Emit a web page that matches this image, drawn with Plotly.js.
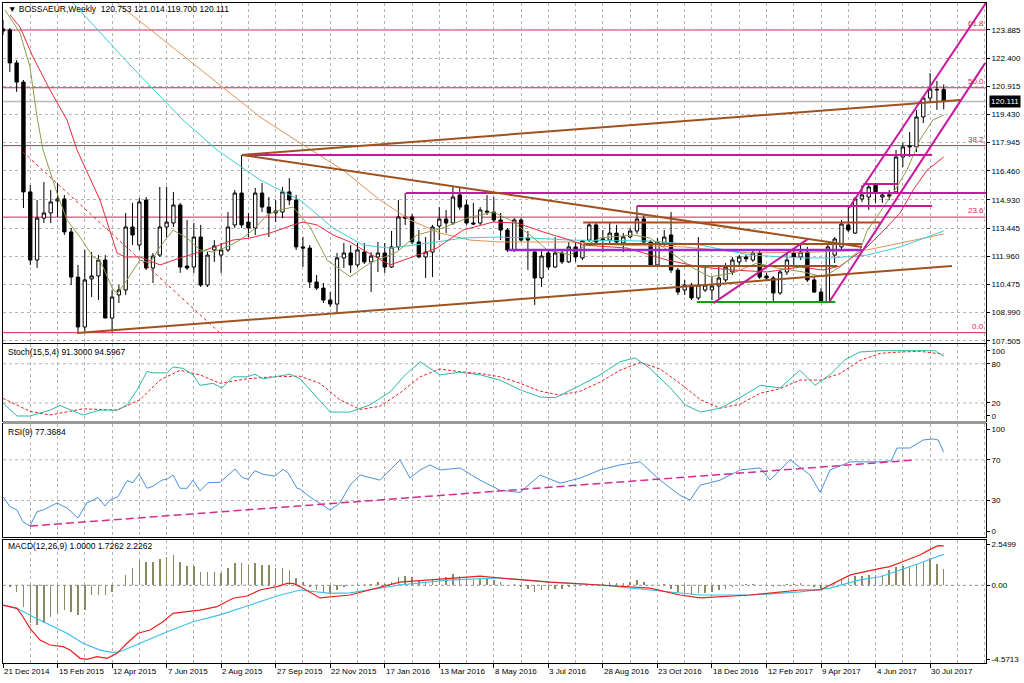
<!DOCTYPE html>
<html><head><meta charset="utf-8">
<script src="https://cdn.plot.ly/plotly-3.0.1.min.js"></script>
<style>html,body{margin:0;padding:0;background:#fff}#chart{width:1024px;height:683px}</style>
</head><body><div id="chart"></div>
<script>
// ---- data (weekly candles from 21 Dec 2014) ----
const candleOpen=[123.94,123.89,122.15,121.14,115.35,111.76,113.97,114.24,114.87,114.98,113.24,110.86,108.23,110.76,110.92,111.76,108.70,109.92,110.18,113.50,112.55,114.92,111.34,112.02,113.50,113.71,114.66,111.44,111.39,112.97,110.44,112.29,112.02,112.29,113.61,115.29,113.76,113.45,115.29,114.55,114.24,114.29,115.35,114.92,112.45,112.39,110.60,110.28,109.65,109.44,111.87,112.13,111.50,112.18,111.66,111.92,112.13,111.39,112.45,114.03,114.03,112.71,111.92,112.18,113.55,113.92,113.71,115.19,114.66,113.71,113.71,114.34,114.29,113.87,113.34,112.29,113.87,112.92,112.18,110.81,112.13,111.39,112.13,111.66,112.45,111.87,112.81,113.61,112.81,112.81,113.18,112.66,112.98,113.29,113.92,112.71,111.50,112.66,113.08,111.23,110.18,110.44,109.76,110.18,110.18,110.39,110.71,111.13,111.66,111.92,111.76,112.13,110.92,110.81,110.02,111.13,112.13,111.92,112.18,110.71,110.07,109.55,112.02,112.45,113.61,113.18,114.98,115.08,115.71,115.08,115.13,115.35,117.19,117.72,117.72,119.30,120.30,120.72,120.753];
const candleHigh=[124.41,123.99,122.30,121.25,115.71,114.92,115.87,115.45,115.82,115.19,113.45,111.50,112.29,112.18,112.02,112.02,110.18,110.44,114.24,114.77,115.03,115.08,112.13,115.61,115.61,115.35,114.77,113.87,113.71,113.61,112.18,112.81,112.66,114.29,115.45,117.30,114.24,115.56,115.82,115.08,114.92,115.61,116.08,115.19,112.97,112.55,110.97,110.55,110.07,112.13,112.66,112.55,112.66,112.66,112.18,112.71,112.66,113.29,114.92,115.29,114.19,113.34,112.97,113.61,114.55,114.40,115.61,115.56,114.92,114.77,114.55,115.19,115.08,114.24,113.45,113.97,113.97,113.29,112.29,112.29,112.29,112.97,112.29,112.71,112.71,112.81,113.71,113.71,113.34,113.71,113.61,113.18,113.45,114.61,114.13,112.81,112.92,113.34,114.29,111.34,110.71,110.55,112.97,111.39,110.86,111.39,111.60,111.92,112.02,112.02,112.24,112.24,111.08,110.92,111.23,112.18,112.39,112.55,112.45,110.86,110.28,112.55,112.97,113.87,114.55,115.08,115.71,115.82,115.82,115.35,115.45,117.56,117.93,118.51,119.67,120.41,121.62,121.20,121.014];
const candleLow=[123.62,121.67,120.62,114.50,111.50,111.34,113.71,113.71,114.03,113.08,110.44,107.91,107.97,109.81,109.65,108.70,107.97,109.49,109.92,112.55,112.29,111.23,110.55,111.92,112.97,113.50,111.08,111.23,111.08,110.34,110.34,111.66,111.08,112.18,113.45,113.45,112.97,113.08,114.29,112.97,113.76,113.97,114.66,112.29,111.39,110.28,110.18,109.49,109.28,108.97,111.34,111.08,111.39,111.55,110.07,111.13,111.08,111.34,112.29,113.61,112.60,111.87,110.81,110.86,112.81,113.18,113.61,114.40,113.61,113.61,113.61,114.13,113.76,112.81,112.18,112.18,112.71,111.23,109.39,110.34,111.23,111.34,111.55,111.60,111.66,111.76,112.71,112.55,112.18,112.55,112.60,112.18,112.92,113.13,112.55,111.39,111.39,112.50,111.08,109.92,109.92,109.65,109.65,110.07,109.65,109.65,110.60,110.97,111.50,111.66,111.66,110.76,110.65,109.49,109.92,110.97,111.39,111.76,110.60,110.02,109.49,109.49,111.60,112.29,113.24,113.13,114.82,114.40,114.77,114.77,114.92,115.29,116.66,117.19,117.45,118.98,120.04,119.67,119.700];
const candleClose=[123.83,122.15,121.14,115.35,111.76,113.97,114.24,114.82,114.98,113.24,110.86,108.23,110.71,110.92,111.76,108.70,109.81,110.18,113.50,113.08,114.82,111.34,111.97,113.50,113.76,114.66,111.39,111.34,112.97,110.44,112.02,112.50,112.29,113.50,115.29,113.61,113.45,115.29,114.55,114.24,114.34,115.35,114.92,112.45,112.39,110.60,110.28,109.65,109.44,111.87,112.13,111.50,112.29,111.66,111.97,112.13,111.39,112.45,114.03,113.97,112.71,111.92,112.18,113.50,113.92,113.71,115.08,114.55,113.71,113.66,114.40,114.29,113.87,113.34,112.29,113.87,112.81,112.81,110.81,111.97,111.39,112.13,111.66,112.45,111.92,112.77,113.61,112.71,112.87,113.18,112.71,112.98,113.29,113.92,112.71,111.50,112.71,112.97,111.23,110.07,110.44,109.76,110.44,110.44,110.39,110.81,111.39,111.76,111.92,111.82,112.13,110.86,110.81,110.02,111.13,111.76,111.92,112.18,110.71,110.07,109.55,112.45,112.87,113.66,113.34,114.98,115.19,115.61,115.29,115.19,115.19,117.19,117.72,117.77,119.30,120.30,120.77,120.75,120.111];

// moving averages (sampled along the lines)
const maFastIdx=[0.29,2.49,3.96,4.99,5.87,7.92,9.39,11.3,13.2,14.23,16.14,16.87,18.19,20.1,21.57,23.03,24.94,27.0,28.9,30.81,32.86,34.77,36.68,38.73,40.64,42.55,45.04,47.54,50.91,53.84,57.8,60.74,64.55,68.07,71.89,74.38,77.32,79.81,83.19,85.09,87.59,92.43,94.92,98.88,101.23,103.73,107.1,110.62,113.56,117.37,120.3,122.8,125.73,126.76,130.57,132.6,134.5,136.4,138];
const maFastVal=[124.94,123.73,121.93,119.30,117.56,115.29,113.87,112.97,111.92,111.76,110.18,110.02,110.71,111.76,111.60,112.45,113.34,112.92,112.29,112.18,112.45,112.81,113.34,114.13,114.40,114.55,113.50,111.76,110.87,111.60,112.18,113.08,113.45,113.97,114.29,113.87,113.08,112.29,112.03,112.45,112.92,113.08,112.92,111.92,111.34,110.87,111.08,111.60,111.34,111.13,110.87,111.39,112.30,113.30,115.29,116.50,118.09,119.14,119.40];
const maMidIdx=[1.03,2.49,4.40,6.90,9.39,10.86,14.23,16.73,17.9,20.1,23.03,26.41,28.9,33.74,36.24,39.17,42.55,44.01,46.07,48.42,50.91,52.82,56.78,60.74,63.67,67.49,71.89,75.41,79.23,83.19,85.09,91.55,97.42,102.26,107.1,112.09,116.93,120.3,122.8,126.76,129.69,131.6,133.51,135.56,138];
const maMidVal=[124.68,124.04,122.46,120.72,119.14,117.56,114.92,112.13,111.92,111.92,111.50,111.92,112.18,112.81,112.92,113.18,113.61,113.76,113.61,113.08,112.71,112.29,111.50,112.02,112.39,113.34,113.76,113.71,113.24,112.81,112.55,112.39,111.76,111.39,111.23,111.13,111.39,111.23,111.44,112.45,113.50,114.24,115.45,116.50,117.19];
const maSlowIdx=[0,10.27,18.63,26.41,31.40,37.71,43.57,48.42,52.82,56.78,62.65,67.49,72.48,77.32,83.19,94.92,102.26,109.59,116.93,121.77,126.76,131.6,138];
const maSlowVal=[129.21,125.31,122.04,119.14,117.56,115.98,114.92,113.45,112.55,112.39,112.66,112.92,112.97,112.92,112.81,112.76,112.55,112.02,111.87,111.87,112.02,112.45,113.29];
const maLongIdx=[0,16.73,25.97,37.71,43.57,49.88,55.31,59.71,64.11,68.51,72.92,83.19,90.08,99.77,109.59,119.42,126.76,131.6,138];
const maLongVal=[130.10,125.31,122.67,119.30,117.93,116.50,114.92,113.87,113.18,112.81,112.71,112.71,112.55,112.45,112.13,112.18,112.29,112.66,113.13];

// indicators
const stochMainIdx=[0,2.05,3.96,6.9,8.36,11.74,14.23,16.73,18.19,19.66,21.13,22.0,24.06,24.94,26.41,27.88,28.9,30.81,32.13,33.74,35.8,36.97,38.15,40.2,42.1,43.57,48,50.9,53.8,56.8,59,61.2,64.1,67,70,72.9,75.9,78.8,81,84.7,87.6,90.5,92.7,94.9,97.9,100.1,102.3,105.2,108.1,111.1,114,116.9,119.1,121.3,123.5,125.7,128.7,131.6,134.5,136.7,138];
const stochMainVal=[20,0,0,9,16,1.5,9,9,17,40,68,66,66,75,73,63,47,50,43,60,60,64,57,61,64,57,6,6,17,37,63,83,63,67,63,55,40,29,28,47,63,83,89,73,43,17,6,12,28,47,43,70,47,63,86,98,100,100,100,100,91.3];
const stochSigIdx=[0,3.96,6.9,11.74,16.73,20.1,23.03,25.97,28.9,31.84,35.8,39.6,43.57,46.5,49.4,52.4,55.3,58.2,61.2,64.1,67,70,72.9,75.9,78.8,81.7,84.7,87.6,90.5,93.5,96.4,99.3,102.3,105.2,108.1,111.1,114,116.9,119.9,122.8,125.7,128.7,131.6,134.5,138];
const stochSigVal=[27,7,1.5,11,9,25,55,70,63,50,57,60,61,50,25,10,15,35,60,72,68,65,60,50,38,32,38,52,70,82,72,50,25,12,18,35,42,55,55,65,85,96,98,99,94.5967];
const rsiIdx=[0,1.03,2.05,2.93,3.96,4.99,5.87,7.92,9.39,11.0,12.32,12.76,13.94,14.96,15.7,16.87,18.19,19.07,19.95,21.13,22.0,23.33,24.06,24.94,25.97,27.0,27.88,28.9,30.08,31.84,34.04,35.06,35.94,36.97,38.15,39.9,41.08,41.81,43.13,43.57,45.04,47.98,49.44,50.91,52.38,55.31,56.78,58.25,59.71,61.18,62.65,64.11,67.05,69.98,72.92,75.85,78.79,81.72,84.65,87.59,90.52,93.46,96.39,99.33,100.8,102.26,105.2,108.13,111.06,112.53,115.46,118.4,119.87,121.33,124.27,128.67,130.28,131.16,133.05,134.98,136.44,137.18,138];
const rsiVal=[33.7,24,20.6,9,5,19,20.6,27.5,22.6,12.8,27.8,28.8,33,24.6,30.5,33.7,49.5,47.5,56,42,44,50,51,55,42,42,50,39.6,47.5,47.9,61,52.8,50.8,59.3,55.7,54,60.7,57.3,42,41.3,33.4,20.6,27.5,45.2,55,50,60,69.8,52,60,65,60,62,50,40,38,55,47,52,60,65,68,50,35,30.5,45,50,60,62,50,70,55,38,60,68,68,69,81.6,81.6,89.5,90.5,89.5,77.3684];
const macdHist=[0,-0.1,-0.39,-1.32,-2.35,-2.45,-2.35,-1.94,-1.69,-1.53,-1.63,-1.83,-1.53,-0.6,-0.6,-0.6,-0.39,0,0.64,1.05,1.56,1.46,1.46,1.6,1.77,1.87,1.46,1.19,1.19,0.84,0.84,0.84,0.74,1.05,1.36,1.36,1.26,1.36,1.26,1.26,1.05,1.05,0.94,0.43,0.2,-0.1,-0.3,-0.4,-0.5,-0.3,-0.1,0,0.1,0.1,0.1,0.2,0.1,0.2,0.5,0.6,0.5,0.3,0.2,0.4,0.5,0.5,0.7,0.6,0.5,0.4,0.4,0.4,0.3,0.2,0,0.1,-0.1,-0.2,-0.4,-0.3,-0.3,-0.2,-0.2,-0.1,-0.1,0,0.1,0.1,0.1,0.2,0.15,0.15,0.2,0.3,0.2,0,0,0.05,-0.2,-0.4,-0.5,-0.6,-0.5,-0.45,-0.4,-0.3,-0.2,-0.1,0,0.05,0.1,0,-0.05,-0.1,-0.05,0.05,0.1,0.15,0,-0.1,-0.2,0,0.2,0.35,0.4,0.55,0.6,0.65,0.62,0.64,0.94,1.1,1.2,1.1,1.3,1.45,1.67,1.3,1.0];
const macdMainIdx=[0,2.05,2.93,3.96,5.43,6.9,8.8,9.83,11.3,12.32,13.79,15.26,16.73,18.19,19.81,21.57,23.47,24.94,27.0,28.9,31.4,33.74,35.8,37.7,40.2,41.67,42.55,43.57,46.5,50.9,58.2,65.6,70.0,72.9,80.25,87.6,94.9,99.3,102.3,109.6,116.9,119.9,124.3,128.7,130.1,132.6,134.5,136.3,137.2,138];
const macdMainVal=[-1.22,-1.42,-1.94,-2.66,-3.38,-3.69,-3.79,-4.0,-4.51,-4.57,-4.41,-4.51,-4.2,-3.58,-2.96,-2.76,-2.25,-1.73,-1.63,-1.53,-1.32,-0.8,-0.66,-0.29,-0.08,0.12,0.12,-0.08,-0.78,-0.6,0.2,0.45,0.57,0.45,0.2,0.02,-0.17,-0.6,-0.78,-0.6,-0.29,-0.29,0.64,1.05,1.15,1.56,1.87,2.28,2.45,2.43];
const macdSigIdx=[0,2.05,4.4,6.9,9.39,11.74,14.23,16.14,17.17,20.1,24.06,27.88,31.84,36.24,40.2,43.57,48,50.9,58.2,65.6,72.9,80.25,87.6,94.9,102.3,109.6,116.9,121.3,125.7,128.7,131.6,134.5,136.4,138];
const macdSigVal=[-1.22,-1.42,-1.94,-2.45,-2.96,-3.58,-4.0,-4.16,-4.1,-3.58,-2.87,-2.25,-1.83,-1.22,-0.66,-0.29,-0.5,-0.47,0.02,0.33,0.45,0.2,0.02,-0.29,-0.6,-0.6,-0.41,-0.17,0.33,0.53,0.94,1.36,1.67,1.91];

// chart objects (levels and trend lines, in week-index / price units)
const fibLevels=[107.93,114.02,117.79,120.84,123.885];
const fibLabels=['0.0','23.6','38.2','50.0','61.8'];
const magentaLevel=[117.30,115.29,114.61,115.77];
const magentaFrom=[35.06,59.1,93.0,126.2];
const magentaTo=[136.3,144.2,136.3,131.2];
const purpleLevel=[112.29]; const purpleFrom=[74.1]; const purpleTo=[126.0];
const greenLevel=[109.55]; const greenFrom=[101.8]; const greenTo=[122.1];
const brownX0=[35.06,35.06,10.86,85.1,85.4,84.2];
const brownY0=[117.30,117.30,107.91,113.74,112.60,111.44];
const brownX1=[140.4,126.0,139.2,128.7,126.0,122.4];
const brownY1=[120.19,112.45,111.44,113.74,112.60,111.44];
const chanX0=[104.2,121.2,124.1], chanY0=[109.49,109.55,114.50];
const chanX1=[118.1,144.1,144.2], chanY1=[112.87,122.15,125.31];
const redDashX=[2.93,31.84], redDashY=[117.45,107.91];
const rsiTrendX=[3.96,133.8], rsiTrendY=[4.9,69.8];

const priceTicks=[107.505,108.990,110.475,111.960,113.445,114.930,116.460,117.945,119.430,120.915,122.400,123.885];
const xTickIdx=[0,8,16,24,32,40,48,56,64,72,80,88,96,104,112,120,128,136];
const xTickLabels=['21 Dec 2014','15 Feb 2015','12 Apr 2015','7 Jun 2015','2 Aug 2015','27 Sep 2015','22 Nov 2015','17 Jan 2016','13 Mar 2016','8 May 2016','3 Jul 2016','28 Aug 2016','23 Oct 2016','18 Dec 2016','12 Feb 2017','9 Apr 2017','4 Jun 2017','30 Jul 2017'];

// ---- build ----
const N=candleOpen.length;
const weekIdx=candleOpen.map((_,i)=>i);
const last=N-1;
const FF='"Liberation Sans", Arial, sans-serif';
const FONT={family:FF,size:8,color:'#000'};
const GRID='#B4B4B4';
const xRange=[0,144.2];
const gridIdx=[]; for(let g=0; g<=144; g+=4) gridIdx.push(g);

function xAx(anchor,bottom){
  return {domain:[0,1],anchor:anchor,range:xRange,showline:true,mirror:true,linecolor:'#000',linewidth:1,
    zeroline:false,tickmode:'array',tickvals:xTickIdx,ticktext:xTickIdx.map(()=>''),
    ticks:bottom?'outside':'',ticklen:4,tickcolor:'#000',showgrid:true,gridcolor:GRID,griddash:'3px,3px',
    minor:{tickmode:'array',tickvals:gridIdx,showgrid:true,gridcolor:GRID,griddash:'3px,3px',ticks:''},
    showticklabels:false,rangeslider:{visible:false},fixedrange:true};
}
function yAx(anchor,domain,range,vals,texts,grid){
  return {domain:domain,anchor:anchor,range:range,side:'right',showline:true,mirror:true,linecolor:'#000',linewidth:1,
    zeroline:false,tickmode:'array',tickvals:vals,ticktext:texts,ticks:'outside',ticklen:3,tickcolor:'#000',
    tickfont:FONT,showgrid:grid,gridcolor:GRID,griddash:'3px,3px',fixedrange:true};
}

const traces=[
  {type:'scatter',mode:'lines',x:maLongIdx,y:maLongVal,line:{color:'#E0915A',width:1},xaxis:'x',yaxis:'y',hoverinfo:'skip'},
  {type:'scatter',mode:'lines',x:maSlowIdx,y:maSlowVal,line:{color:'#3CCFD2',width:1},xaxis:'x',yaxis:'y',hoverinfo:'skip'},
  {type:'scatter',mode:'lines',x:maMidIdx,y:maMidVal,line:{color:'#E8283C',width:1},xaxis:'x',yaxis:'y',hoverinfo:'skip'},
  {type:'scatter',mode:'lines',x:maFastIdx,y:maFastVal,line:{color:'#8E9C4A',width:1},xaxis:'x',yaxis:'y',hoverinfo:'skip'},
  {type:'candlestick',x:weekIdx,open:candleOpen,high:candleHigh,low:candleLow,close:candleClose,xaxis:'x',yaxis:'y',
    increasing:{line:{color:'#000',width:1},fillcolor:'#FFFFFF'},decreasing:{line:{color:'#000',width:1},fillcolor:'#000000'},
    whiskerwidth:0,hoverinfo:'skip'},
  {type:'scatter',mode:'lines',x:stochSigIdx,y:stochSigVal,line:{color:'#E82020',width:1,dash:'3px,2px'},xaxis:'x2',yaxis:'y2',hoverinfo:'skip'},
  {type:'scatter',mode:'lines',x:stochMainIdx,y:stochMainVal,line:{color:'#2DB8A8',width:1},xaxis:'x2',yaxis:'y2',hoverinfo:'skip'},
  {type:'scatter',mode:'lines',x:rsiIdx,y:rsiVal,line:{color:'#4A90E0',width:1},xaxis:'x3',yaxis:'y3',hoverinfo:'skip'},
  {type:'bar',x:weekIdx,y:macdHist,width:0.22,marker:{color:'#8A8A62',line:{width:0}},xaxis:'x4',yaxis:'y4',hoverinfo:'skip'},
  {type:'scatter',mode:'lines',x:macdSigIdx,y:macdSigVal,line:{color:'#3CC0EA',width:1.2},xaxis:'x4',yaxis:'y4',hoverinfo:'skip'},
  {type:'scatter',mode:'lines',x:macdMainIdx,y:macdMainVal,line:{color:'#E82020',width:1.2},xaxis:'x4',yaxis:'y4',hoverinfo:'skip'}
];

const shapes=[];
shapes.push({type:'line',xref:'x',x0:xRange[0],x1:xRange[1],yref:'y',y0:candleClose[last],y1:candleClose[last],line:{color:'#B8B8B8',width:1.5},layer:'below'});
fibLevels.forEach(v=>shapes.push({type:'line',xref:'x',x0:xRange[0],x1:xRange[1],yref:'y',y0:v,y1:v,line:{color:'#DC1E50',width:1},layer:'below'}));
magentaLevel.forEach((v,k)=>shapes.push({type:'line',xref:'x',yref:'y',x0:magentaFrom[k],x1:magentaTo[k],y0:v,y1:v,line:{color:'#C8189C',width:2},layer:'above'}));
purpleLevel.forEach((v,k)=>shapes.push({type:'line',xref:'x',yref:'y',x0:purpleFrom[k],x1:purpleTo[k],y0:v,y1:v,line:{color:'#9A28D8',width:2.5},layer:'above'}));
greenLevel.forEach((v,k)=>shapes.push({type:'line',xref:'x',yref:'y',x0:greenFrom[k],x1:greenTo[k],y0:v,y1:v,line:{color:'#10A010',width:2},layer:'above'}));
brownX0.forEach((x0,k)=>shapes.push({type:'line',xref:'x',yref:'y',x0:x0,y0:brownY0[k],x1:brownX1[k],y1:brownY1[k],line:{color:'#A0521E',width:2},layer:'above'}));
chanX0.forEach((x0,k)=>shapes.push({type:'line',xref:'x',yref:'y',x0:x0,y0:chanY0[k],x1:chanX1[k],y1:chanY1[k],line:{color:'#C8189C',width:2},layer:'above'}));
shapes.push({type:'line',xref:'x',yref:'y',x0:redDashX[0],y0:redDashY[0],x1:redDashX[1],y1:redDashY[1],line:{color:'#E02020',width:1,dash:'3px,3px'},layer:'above'});
[20,80].forEach(v=>shapes.push({type:'line',xref:'x2',x0:xRange[0],x1:xRange[1],yref:'y2',y0:v,y1:v,line:{color:GRID,width:1,dash:'3px,3px'},layer:'below'}));
[30,70].forEach(v=>shapes.push({type:'line',xref:'x3',x0:xRange[0],x1:xRange[1],yref:'y3',y0:v,y1:v,line:{color:GRID,width:1,dash:'3px,3px'},layer:'below'}));
shapes.push({type:'line',xref:'x4',x0:xRange[0],x1:xRange[1],yref:'y4',y0:0,y1:0,line:{color:'#909090',width:1,dash:'3px,3px'},layer:'below'});
shapes.push({type:'line',xref:'x3',yref:'y3',x0:rsiTrendX[0],y0:rsiTrendY[0],x1:rsiTrendX[1],y1:rsiTrendY[1],line:{color:'#D0308C',width:1.5,dash:'8px,4px'},layer:'above'});
shapes.push({type:'rect',xref:'paper',yref:'paper',x0:0,x1:1,y0:0.3621,y1:0.3667,fillcolor:'#9A9A9A',line:{width:0},layer:'above'});

const annotations=[];
const hdr='▼ BOSSAEUR,Weekly  '+candleOpen[last].toFixed(3)+' '+candleHigh[last].toFixed(3)+' '+candleLow[last].toFixed(3)+' '+candleClose[last].toFixed(3);
function lbl(text,yp){annotations.push({xref:'paper',yref:'paper',x:0.003,y:yp,xanchor:'left',yanchor:'middle',text:text,showarrow:false,font:{family:FF,size:8.5,color:'#000'}});}
lbl(hdr,0.9909);
lbl('Stoch(15,5,4) '+stochMainVal[stochMainVal.length-1].toFixed(4)+' '+stochSigVal[stochSigVal.length-1].toFixed(4),0.4712);
lbl('RSI(9) '+rsiVal[rsiVal.length-1].toFixed(4),0.3500);
lbl('MACD(12,26,9) '+macdHist[last].toFixed(4)+' 1.7262 2.2262',0.1773);
fibLevels.forEach((v,k)=>annotations.push({xref:'paper',yref:'y',x:0.999,y:v,xanchor:'right',yanchor:'bottom',yshift:1,borderpad:0,text:fibLabels[k],showarrow:false,font:{family:FF,size:8,color:'#DC1E50'}}));
annotations.push({xref:'paper',yref:'y',x:1.003,y:candleClose[last],xanchor:'left',yanchor:'middle',text:candleClose[last].toFixed(3),showarrow:false,bgcolor:'#000',borderpad:1,font:{family:FF,size:8,color:'#fff'}});
xTickIdx.forEach((t,k)=>annotations.push({xref:'x4',yref:'paper',x:t,y:-0.0136,xanchor:'left',yanchor:'middle',xshift:-1,text:xTickLabels[k],showarrow:false,font:FONT}));

const layout={
  width:1024,height:683,margin:{l:3,r:38,t:3,b:20},paper_bgcolor:'#fff',plot_bgcolor:'#fff',showlegend:false,
  font:FONT,boxgap:0.3,bargap:0,
  xaxis:xAx('y',false),xaxis2:xAx('y2',false),xaxis3:xAx('y3',false),xaxis4:xAx('y4',true),
  yaxis:yAx('x',[0.48485,1],[107.385,125.308],priceTicks,priceTicks.map(v=>v.toFixed(3)),true),
  yaxis2:yAx('x2',[0.36667,0.48333],[-7.66,110.26],[0,20,80,100],['0','20','80','100'],false),
  yaxis3:yAx('x3',[0.19091,0.36212],[-5.90,105.21],[0,30,70,100],['0','30','70','100'],false),
  yaxis4:yAx('x4',[0,0.18636],[-4.799,2.798],[-4.5713,0,2.5499],['-4.5713','0.00','2.5499'],false),
  shapes:shapes,annotations:annotations
};
Plotly.newPlot('chart',traces,layout,{staticPlot:true,displayModeBar:false});
</script></body></html>
